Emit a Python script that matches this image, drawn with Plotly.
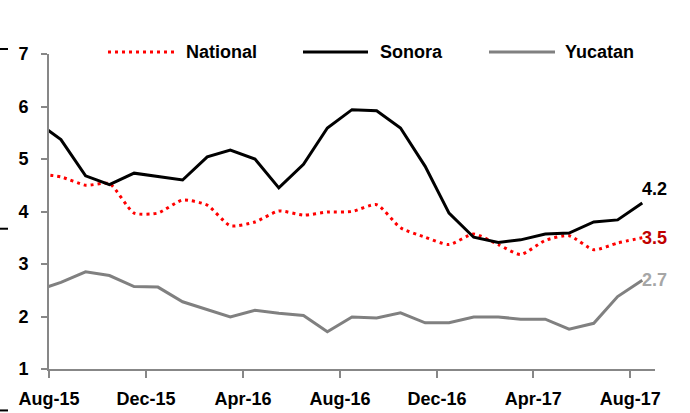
import plotly.graph_objects as go

# monthly figures, Jul-15 .. Aug-17 (Jul-15 only shows as the clipped lead-in)
months = ["2015-07", "2015-08", "2015-09", "2015-10", "2015-11", "2015-12",
          "2016-01", "2016-02", "2016-03", "2016-04", "2016-05", "2016-06",
          "2016-07", "2016-08", "2016-09", "2016-10", "2016-11", "2016-12",
          "2017-01", "2017-02", "2017-03", "2017-04", "2017-05", "2017-06",
          "2017-07", "2017-08"]

national = [4.72, 4.66, 4.50, 4.53, 3.97, 3.97, 4.22, 4.12, 3.73, 3.80, 4.01, 3.93,
            3.99, 4.00, 4.13, 3.69, 3.51, 3.37, 3.57, 3.37, 3.18, 3.45, 3.54, 3.27,
            3.40, 3.50]
sonora = [5.71, 5.37, 4.68, 4.51, 4.73, 4.67, 4.60, 5.04, 5.17, 5.00, 4.45, 4.90,
          5.59, 5.94, 5.92, 5.59, 4.86, 3.97, 3.51, 3.41, 3.46, 3.57, 3.59, 3.80,
          3.84, 4.16]
yucatan = [2.49, 2.65, 2.85, 2.78, 2.57, 2.56, 2.28, 2.13, 1.99, 2.12, 2.06, 2.02,
           1.71, 1.99, 1.97, 2.07, 1.88, 1.88, 1.99, 1.99, 1.95, 1.95, 1.76, 1.87,
           2.38, 2.69]

# points sit mid-month
dates = [m + "-16" for m in months]

FONT = "Liberation Sans, Arial, sans-serif"
AXIS_COL = "#878787"

# plot area in pixels (for the hand-drawn legend)
L, R, T, B = 49, 655, 54, 369.5
def px(x):
    return (x - L) / (R - L)
def py(y):
    return (B - y) / (B - T)

series = [
    ("National", national, dict(color="#FF0000", width=3, dash="3px,4px", shape="spline", smoothing=0.6), "#C00000"),
    ("Sonora", sonora, dict(color="#000000", width=3), "#000000"),
    ("Yucatan", yucatan, dict(color="#808080", width=3), "#A6A6A6"),
]

fig = go.Figure()
for name, vals, line, lab_col in series:
    fig.add_trace(go.Scatter(x=dates, y=vals, mode="lines", name=name, line=line,
                             showlegend=False, hoverinfo="x+y+name"))

# end-of-line value labels
for name, vals, line, lab_col in series:
    fig.add_annotation(x=dates[-1], y=vals[-1], text=f"{vals[-1]:.1f}",
                       xanchor="left", yanchor="middle", showarrow=False,
                       xshift=-2, yshift=14 if name == "Sonora" else 0,
                       font=dict(family=FONT, size=18, color=lab_col, weight="bold"))

# legend drawn by hand so the line samples are as long as in the original
legend_pos = [(108, 177, 184), (303, 368, 378), (489, 555, 563)]
for (name, vals, line, lab_col), (x0, x1, xt) in zip(series, legend_pos):
    fig.add_shape(type="line", xref="paper", yref="paper",
                  x0=px(x0), x1=px(x1), y0=py(52), y1=py(52),
                  line=dict(color=line["color"], width=3, dash=line.get("dash", "solid")))
    fig.add_annotation(xref="paper", yref="paper", x=px(xt), y=py(52), text=name,
                       xanchor="left", yanchor="middle", showarrow=False,
                       font=dict(family=FONT, size=18, color="#000000", weight="bold"))

# little frame marks on the left edge of the original image
for y in [49, 229, 411]:
    fig.add_shape(type="line", xref="paper", yref="paper",
                  x0=px(0), x1=px(8), y0=py(y), y1=py(y),
                  line=dict(color="#000000", width=2))

fig.update_xaxes(
    type="date", range=["2015-08-01", "2017-09-01"],
    tick0="2015-08-01", dtick="M4", tickformat="%b-%y",
    showline=True, linecolor=AXIS_COL, linewidth=2,
    ticks="outside", ticklen=7, tickwidth=2, tickcolor=AXIS_COL,
    ticklabelstandoff=5, showgrid=False, zeroline=False, automargin=False,
    tickfont=dict(family=FONT, size=18, color="#000000", weight="bold"),
)
fig.update_yaxes(
    range=[1, 7], tickvals=[1, 2, 3, 4, 5, 6, 7],
    showline=True, linecolor=AXIS_COL, linewidth=2,
    ticks="outside", ticklen=6, tickwidth=2, tickcolor=AXIS_COL,
    ticklabelstandoff=9, showgrid=False, zeroline=False, automargin=False,
    tickfont=dict(family=FONT, size=18, color="#000000", weight="bold"),
)

fig.update_layout(
    width=690, height=413,
    margin=dict(l=L, r=690 - R, t=T, b=413 - B),
    plot_bgcolor="white", paper_bgcolor="white",
    showlegend=False,
)

# drop the page's default 8px body margin so the figure sits at the window corner
fig.write_html("out.html", config={"displayModeBar": False},
               post_script="document.body.style.margin='0';")
